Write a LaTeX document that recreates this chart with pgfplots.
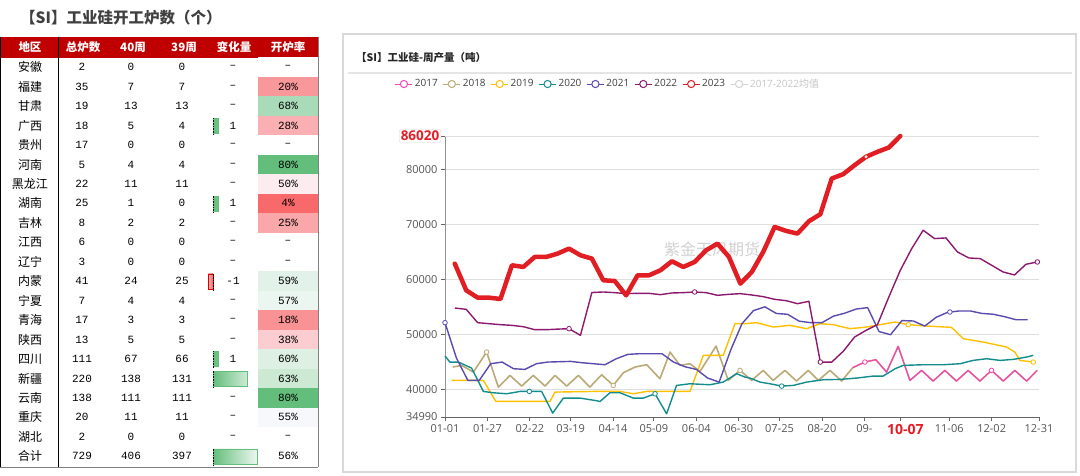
\documentclass[border=0pt]{standalone}
\usepackage{fontspec}
\usepackage{pgfplots}
\pgfplotsset{compat=1.18}
\setmainfont{Liberation Sans}
\newfontfamily\cjk{Noto Sans CJK SC}
\newfontfamily\mono{Liberation Mono}
\newfontfamily\osans{Open Sans}
\definecolor{hdr}{RGB}{192,0,0}
\definecolor{p20}{RGB}{249,152,154}
\definecolor{p68}{RGB}{170,219,184}
\definecolor{p28}{RGB}{250,176,178}
\definecolor{p80}{RGB}{99,190,123}
\definecolor{p50}{RGB}{252,236,239}
\definecolor{p04}{RGB}{248,105,107}
\definecolor{p25}{RGB}{250,167,169}
\definecolor{p59}{RGB}{227,242,233}
\definecolor{p57}{RGB}{236,246,240}
\definecolor{p18}{RGB}{249,146,148}
\definecolor{p38}{RGB}{251,205,208}
\definecolor{p60}{RGB}{221,240,227}
\definecolor{p63}{RGB}{203,233,211}
\definecolor{p55}{RGB}{247,248,252}
\definecolor{barg}{RGB}{99,190,123}
\definecolor{barr}{RGB}{248,105,107}
\definecolor{c17}{RGB}{245,70,180}
\definecolor{c18}{RGB}{185,170,120}
\definecolor{c19}{RGB}{255,192,0}
\definecolor{c20}{RGB}{20,140,140}
\definecolor{c21}{RGB}{90,75,175}
\definecolor{c22}{RGB}{140,25,110}
\definecolor{c23}{RGB}{225,30,35}
\definecolor{axisgray}{RGB}{100,100,100}
\definecolor{gridgray}{RGB}{222,222,222}
\definecolor{labgray}{RGB}{85,85,85}
\definecolor{hot}{RGB}{228,28,38}
\definecolor{ttl}{RGB}{64,64,64}
\begin{document}
\begin{tikzpicture}
\begin{scope}[x=1pt,y=-1pt]
\fill[white] (0,0) rectangle (1080,475);
% ---------- table ----------
\node[anchor=west, inner sep=0pt, text=ttl, font=\cjk\bfseries\fontsize{15.5}{16}\selectfont] at (20,18) {【SI】工业硅开工炉数（个）};
\fill[hdr] (0,37) rectangle (318,57.5);
\foreach \x/\t in {30/地区,83/总炉数,133/40周,184/39周,234/变化量,288/开炉率}
  \node[text=white, font=\cjk\bfseries\fontsize{11.5}{12}\selectfont] at (\x,47.5) {\t};
\foreach \nm/\tot/\wa/\wb/\ch/\rt/\col [count=\i from 0] in {
 安徽/2/0/0/–/–/white,
 福建/35/7/7/–/20\%/p20,
 甘肃/19/13/13/–/68\%/p68,
 广西/18/5/4/1/28\%/p28,
 贵州/17/0/0/–/–/white,
 河南/5/4/4/–/80\%/p80,
 黑龙江/22/11/11/–/50\%/p50,
 湖南/25/1/0/1/4\%/p04,
 吉林/8/2/2/–/25\%/p25,
 江西/6/0/0/–/–/white,
 辽宁/3/0/0/–/–/white,
 内蒙/41/24/25/-1/59\%/p59,
 宁夏/7/4/4/–/57\%/p57,
 青海/17/3/3/–/18\%/p18,
 陕西/13/5/5/–/38\%/p38,
 四川/111/67/66/1/60\%/p60,
 新疆/220/138/131/7/63\%/p63,
 云南/138/111/111/–/80\%/p80,
 重庆/20/11/11/–/55\%/p55,
 湖北/2/0/0/–/–/white,
 合计/729/406/397/9/56\%/white}
{
  \pgfmathsetmacro\yc{67.2+19.45*\i}
  \fill[\col] (258,\yc-9.72) rectangle (318,\yc+9.72);
  \node[font=\cjk\fontsize{12}{12}\selectfont] at (30,\yc) {\nm};
  \node[font=\mono\fontsize{11}{11}\selectfont] at (82,\yc) {\tot};
  \node[font=\mono\fontsize{11}{11}\selectfont] at (131,\yc) {\wa};
  \node[font=\mono\fontsize{11}{11}\selectfont] at (182,\yc) {\wb};
  \node[font=\mono\fontsize{11}{11}\selectfont] at (233,\yc) {\ch};
  \node[font=\mono\fontsize{11}{11}\selectfont] at (288,\yc) {\rt};
}
\draw[black, line width=1pt] (0.5,37) -- (0.5,467);
\draw[black, line width=1pt] (58.5,37) -- (58.5,467);
\draw[gray, line width=1pt] (318,37) -- (318,467);
\draw[gray, line width=1pt] (0,467) -- (318,467);
% ---------- chart panel ----------
\draw[gray!30, line width=1.5pt] (343,34) rectangle (1076,472);
\draw[gray!20, line width=1.2pt] (348,73) -- (1072,73);
\node[anchor=west, inner sep=0pt, font=\cjk\bfseries\fontsize{10.5}{11}\selectfont, text=black!85] at (356,58) {【SI】工业硅-周产量（吨）};
\node[text=gray!35, font=\cjk\fontsize{16}{16}\selectfont] at (712,249) {紫金天风期货};
\end{scope}

% ---------- data bars of the change column ----------
\begin{axis}[at={(203.22pt,-466.2pt)}, anchor=south west, scale only axis,
  width=54.78pt, height=408.45pt, xmin=-2, xmax=9.2, ymin=-20.5, ymax=0.5,
  hide axis, clip=false]
\addplot[xbar, bar width=15pt, bar shift=0pt, draw=barg, line width=0.6pt, left color=barg, right color=barg!12] coordinates {(1,-3) (1,-7) (1,-15) (7,-16) (9,-20)};
\addplot[xbar, bar width=15pt, bar shift=0pt, draw=red!85!black, line width=0.6pt, left color=barr!50, right color=barr] coordinates {(-1,-11)};
\draw[densely dotted, line width=0.6pt] (axis cs:0,-3.45) -- (axis cs:0,-2.55);
\draw[densely dotted, line width=0.6pt] (axis cs:0,-7.45) -- (axis cs:0,-6.55);
\draw[densely dotted, line width=0.6pt] (axis cs:0,-11.45) -- (axis cs:0,-10.55);
\draw[densely dotted, line width=0.6pt] (axis cs:0,-15.45) -- (axis cs:0,-14.55);
\draw[densely dotted, line width=0.6pt] (axis cs:0,-16.45) -- (axis cs:0,-15.55);
\draw[densely dotted, line width=0.6pt] (axis cs:0,-20.45) -- (axis cs:0,-19.55);
\end{axis}

% ---------- weekly output chart ----------
\begin{axis}[at={(445pt,-417pt)}, anchor=south west, scale only axis,
  width=594pt, height=281pt,
  xmin=0, xmax=364, ymin=34990, ymax=86020,
  clip=false, scaled y ticks=false, scaled x ticks=false,
  axis x line*=bottom, axis y line*=left,
  x axis line style={draw=axisgray, line width=0.8pt, -},
  y axis line style={draw=axisgray!70, line width=0.8pt, -},
  tick align=outside, major tick length=4pt,
  tick style={draw=axisgray, line width=0.8pt},
  xtick={0,26,52,77,103,128,154,180,205,231,257,309,335,364},
  xticklabels={01-01,01-27,02-22,03-19,04-14,05-09,06-04,06-30,07-25,08-20,09-,11-06,12-02,12-31},
  ytick={34990,40000,50000,60000,70000,80000},
  yticklabels={34990,40000,50000,60000,70000,80000},
  ymajorgrids, major grid style={draw=gridgray, line width=0.8pt},
  tick label style={font=\osans\fontsize{11}{13}\selectfont, text=labgray},
  extra y ticks={86020}, extra y tick labels={86020},
  extra y tick style={grid=major, tick label style={text=hot, font=\osans\bfseries\fontsize{13.5}{14}\selectfont, draw=gray!30, fill=white, inner sep=1.5pt, rounded corners=1pt}},
  extra x ticks={279}, extra x tick labels={10-07},
  extra x tick style={tick label style={text=hot, font=\osans\bfseries\fontsize{14}{15}\selectfont, xshift=5pt}},
  legend style={at={(0.2744,1.1850)}, anchor=center, draw=none, fill=none, legend columns=8,
    font=\osans\fontsize{10}{11}\selectfont, text=black!75,
    /tikz/every even column/.append style={column sep=3pt}},
  legend cell align=left,
  legend image code/.code={\draw[#1, line width=1pt] (0pt,0pt) -- (17pt,0pt); \draw[#1, line width=1pt, fill=white] (8.5pt,0pt) circle (3.6pt);},
]
\addlegendimage{c17}\addlegendentry{2017}
\addlegendimage{c18}\addlegendentry{2018}
\addlegendimage{c19}\addlegendentry{2019}
\addlegendimage{c20}\addlegendentry{2020}
\addlegendimage{c21}\addlegendentry{2021}
\addlegendimage{c22}\addlegendentry{2022}
\addlegendimage{c23}\addlegendentry{2023}
\addlegendimage{gray!35}\addlegendentry{\textcolor{gray!45}{2017-2022{\cjk 均值}}}

% 2018
\addplot[forget plot, c18, line width=1.6pt, line join=round] coordinates {
(4.7,44060) (10.2,44363) (17.4,43151) (25.5,46787) (32.7,40424) (39.8,42545) (47,40606) (54.1,42545) (61.3,40606) (67.4,42545) (74.6,40606) (81.7,42545) (88.8,40424) (96,42666) (103.1,40727) (109.3,43030) (116.4,44060) (123.6,44484) (131.7,41939) (137.9,46787) (144,44363) (150.1,44666) (156.3,43272) (166.1,47877) (173.6,41638) (180.8,43456) (187.9,41638) (195,43456) (201.1,41638) (208.3,43456) (215.4,41517) (222.6,43456) (228.8,41638) (235.9,43456) (243.1,41517) (249.8,43940) (257.3,44971) (264,45395) (270.6,43153) (277.7,47819) (284.9,41638) (292.1,43456) (299.1,41517) (306.3,43456) (313.4,41517) (320.6,43456) (327.8,41517) (334.9,43456) (342.1,41517) (349.2,43456) (356.4,41517) (362.9,43456)};
% 2017
\addplot[forget plot, c17, line width=1.2pt, line join=round] coordinates {
(249.8,43940) (257.3,44971) (264,45395) (270.6,43153) (277.7,47819) (284.9,41638) (292.1,43456) (299.1,41517) (306.3,43456) (313.4,41517) (320.6,43456) (327.8,41517) (334.9,43456) (342.1,41517) (349.2,43456) (356.4,41517) (362.9,43456)};
% 2019
\addplot[forget plot, c19, line width=1.4pt, line join=round] coordinates {
(4.1,41636) (23.5,41636) (31.2,37818) (64.3,37818) (67.4,39515) (91.9,39636) (107.2,39636) (115.4,39212) (123.6,39636) (150.1,39636) (158.3,46181) (170.5,46181) (177.7,51938) (183.8,51938) (191,52120) (201.2,51332) (211.4,51635) (221.6,51029) (229.8,51938) (238,51756) (248.2,51029) (258.4,51332) (266.6,51756) (275.8,52241) (283.9,51756) (295.1,51514) (310.4,51271) (317.6,49211) (329.8,48605) (344.1,47696) (349.2,46787) (352.3,45272) (360.5,44969)};
% 2020
\addplot[forget plot, c20, line width=1.4pt, line join=round] coordinates {
(0,46060) (3,44969) (8.2,44969) (16.3,43878) (23.5,39636) (29.6,39394) (37.8,39212) (46,39636) (51.7,39636) (59.2,39636) (66,35697) (72.5,38424) (82.7,38424) (91.9,38000) (95,37818) (101.1,39394) (107.2,39394) (115.4,38424) (121.5,38424) (128.7,39212) (135.8,35576) (141.9,40727) (150.1,41030) (162.4,40848) (170.5,41333) (178.7,42848) (183.8,42242) (186.9,42060) (193,41333) (199.1,41030) (206.3,40606) (213.4,40727) (221.6,41333) (231.8,41757) (242,41818) (252.2,42060) (262.4,42424) (268.5,42424) (275.8,43757) (280.8,44363) (293.1,44484) (305.4,44484) (315.6,44666) (323.7,45272) (331.9,45575) (340.1,45272) (348.3,45454) (356.4,45878) (360.5,46181)};
% 2021
\addplot[forget plot, c21, line width=1.4pt, line join=round] coordinates {
(0,52120) (7,45696) (14,41636) (21,41636) (28,44666) (35,44969) (42,43757) (49,43636) (56,44666) (63,44969) (70,45030) (77,45090) (84,44847) (91,44666) (98,44484) (105,45575) (112,46363) (119,46484) (126,46484) (133,46484) (140,44969) (147,44120) (154,43636) (161,42060) (168,41333) (175,47100) (182,51940) (189,54300) (196,55000) (203,53800) (210,53637) (217,52400) (224,52122) (231,52122) (238,53300) (245,53850) (252,54600) (259,54849) (266,50500) (273,49940) (280,52500) (287,52425) (294,51500) (301,53100) (308,54000) (315,54243) (322,54243) (329,53800) (336,53650) (343,53200) (350,52650) (357,52650)};
% 2022
\addplot[forget plot, c22, line width=1.4pt, line join=round] coordinates {
(6,54786) (13,54544) (20,52120) (27,51938) (34,51756) (41,51635) (48,51393) (55,50847) (62,50847) (69,50950) (76,51029) (83,49817) (90,57600) (97,57695) (104,57574) (111,57392) (118,57450) (125,57450) (132,57210) (139,57513) (146,57574) (153,57695) (160,57574) (167,57089) (174,57270) (181,57392) (188,57150) (195,56847) (202,56362) (209,56120) (216,55574) (223,55998) (230,44969) (237,44969) (244,46908) (251,49514) (258,50726) (265,51756) (272,56800) (279,61634) (286,65573) (293,68906) (300,67391) (307,67512) (314,64967) (321,63876) (328,63755) (335,62543) (342,61330) (349,60786) (356,62725) (363,63149)};
% 2023
\addplot[forget plot, c23, line width=4.5pt, line join=round, line cap=round] coordinates {
(6,62846) (13,58000) (20,56665) (27,56665) (34,56420) (41,62543) (48,62240) (55,64058) (62,64058) (69,64664) (76,65573) (83,64361) (90,63755) (97,59816) (104,59695) (111,57089) (118,60725) (125,60725) (132,61634) (139,63270) (146,62240) (153,63149) (160,65270) (167,66482) (174,64058) (181,59210) (188,61330) (195,64967) (202,69512) (209,68785) (216,68300) (223,70543) (230,71815) (237,78300) (244,79087) (251,80723) (258,82238) (265,83147) (272,83935) (279,86020)};
% symbols
\addplot[forget plot, only marks, mark=*, mark size=2.3pt, mark options={draw=c21, fill=white, line width=0.8pt}] coordinates {(0,52120) (309.4,54061)};
\addplot[forget plot, only marks, mark=*, mark size=2.3pt, mark options={draw=c18, fill=white, line width=0.8pt}] coordinates {(25.5,46787) (103.1,40727) (180.8,43456)};
\addplot[forget plot, only marks, mark=*, mark size=2.3pt, mark options={draw=c20, fill=white, line width=0.8pt}] coordinates {(51.7,39636) (128.7,39212) (206.3,40606)};
\addplot[forget plot, only marks, mark=*, mark size=2.3pt, mark options={draw=c22, fill=white, line width=0.8pt}] coordinates {(76,51029) (153,57695) (230,44969) (363,63149)};
\addplot[forget plot, only marks, mark=*, mark size=2.3pt, mark options={draw=c17, fill=white, line width=0.8pt}] coordinates {(257.3,44971) (334.9,43456)};
\addplot[forget plot, only marks, mark=*, mark size=2.3pt, mark options={draw=c19, fill=white, line width=0.8pt}] coordinates {(283.9,51756) (360.5,44969)};
\addplot[forget plot, only marks, mark=*, mark size=1.3pt, mark options={draw=white, fill=white}] coordinates {(258,82238)};
\end{axis}
\pgfresetboundingbox
\path[use as bounding box] (0,0) rectangle (1080pt,-475pt);
\end{tikzpicture}
\end{document}
